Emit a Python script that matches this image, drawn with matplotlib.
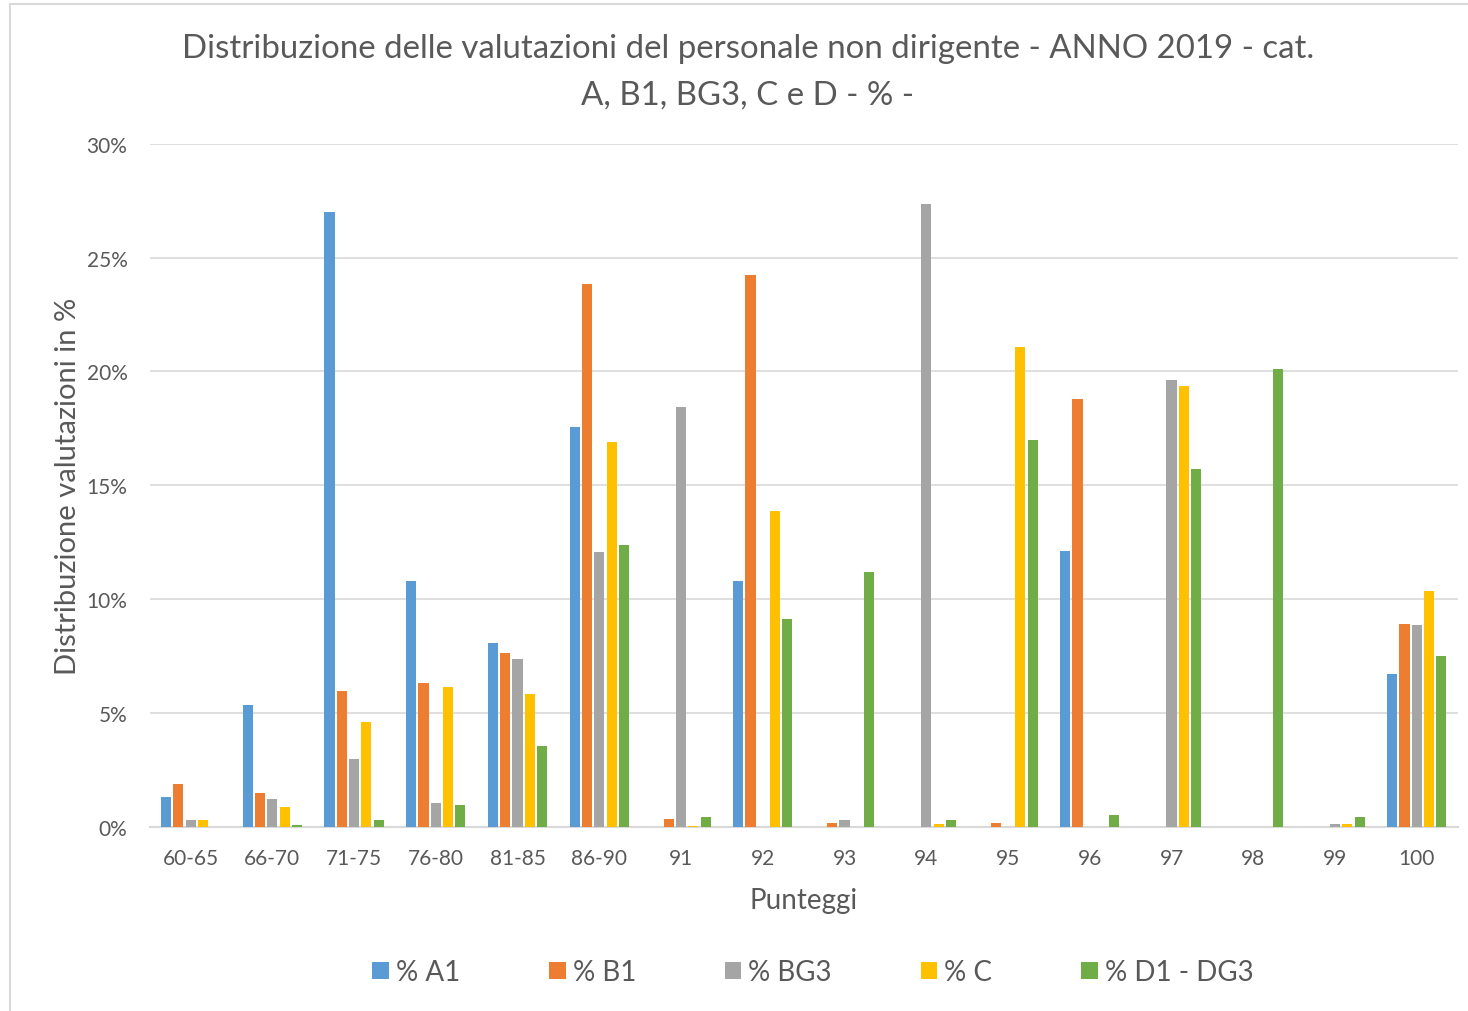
import numpy as np
import matplotlib.pyplot as plt
from matplotlib.patches import Rectangle
from matplotlib.ticker import PercentFormatter

plt.rcParams['font.family'] = ['Lato', 'DejaVu Sans']

categorie = ['60-65', '66-70', '71-75', '76-80', '81-85', '86-90', '91', '92',
             '93', '94', '95', '96', '97', '98', '99', '100']

# valori in %
a1 = [1.33, 5.36, 27.0, 10.8, 8.08, 17.55, 0, 10.8, 0, 0, 0, 12.12, 0, 0, 0, 6.72]
b1 = [1.86, 1.49, 5.97, 6.32, 7.64, 23.85, 0.35, 24.24, 0.18, 0, 0.18, 18.8, 0, 0, 0, 8.92]
bg3 = [0.28, 1.2, 2.99, 1.05, 7.38, 12.08, 18.45, 0, 0.28, 27.36, 0, 0, 19.63, 0, 0.13, 8.87]
c = [0.31, 0.88, 4.61, 6.15, 5.84, 16.9, 0.04, 13.88, 0, 0.13, 21.08, 0, 19.37, 0, 0.13, 10.36]
d1 = [0, 0.1, 0.31, 0.94, 3.56, 12.38, 0.42, 9.13, 11.2, 0.31, 17.0, 0.51, 15.72, 20.11, 0.42, 7.51]

serie = [a1, b1, bg3, c, d1]
nomi = ['% A1', '% B1', '% BG3', '% C', '% D1 - DG3']
colori = ['#5b9bd5', '#ed7d31', '#a5a5a5', '#ffc000', '#70ad47']

fig = plt.figure(figsize=(14.68, 10.12), dpi=100)
ax = fig.add_axes([0.102, 0.182, 0.891, 0.675])

x = np.arange(len(categorie))
step = 0.15
for i, (s, nome, col) in enumerate(zip(serie, nomi, colori)):
    ax.bar(x + (i - 2) * step, np.array(s) / 100, width=0.125, color=col,
           label=nome, zorder=3)

ax.set_xlim(-0.5, len(categorie) - 0.5)
ax.set_ylim(0, 0.30)
ax.set_yticks(np.arange(0, 0.31, 0.05))
ax.yaxis.set_major_formatter(PercentFormatter(1.0, decimals=0))
ax.set_xticks(x)
ax.set_xticklabels(categorie)
ax.grid(axis='y', color='#d9d9d9', linewidth=1.2, zorder=0)
for lato in ['top', 'right', 'left']:
    ax.spines[lato].set_visible(False)
ax.spines['bottom'].set_color('#d9d9d9')
ax.spines['bottom'].set_linewidth(1.5)
ax.tick_params(axis='both', length=0, labelsize=15, colors='#595959')
ax.tick_params(axis='x', pad=15)
ax.tick_params(axis='y', pad=16)

ax.set_xlabel('Punteggi', fontsize=20, color='#595959', labelpad=14)
ax.set_ylabel('Distribuzione valutazioni in %', fontsize=21, color='#595959', labelpad=4)

fig.text(0.5095, 0.952, 'Distribuzione delle valutazioni del personale non dirigente - ANNO 2019 - cat.',
         ha='center', va='center', fontsize=23.8, color='#595959')
fig.text(0.5095, 0.906, 'A, B1, BG3, C e D - % -', ha='center', va='center',
         fontsize=23.8, color='#595959')

ax.legend(loc='center', bbox_to_anchor=(0.507, -0.213), ncol=5, frameon=False,
          fontsize=20, labelcolor='#595959', handlelength=0.6, handleheight=0.6,
          handletextpad=0.25, columnspacing=3.2)

# cornice esterna
fig.patches.append(Rectangle((0.007, -0.01), 0.999, 1.005, transform=fig.transFigure,
                             fill=False, edgecolor='#d9d9d9', linewidth=1.5))

plt.savefig('out.png', dpi=100)
